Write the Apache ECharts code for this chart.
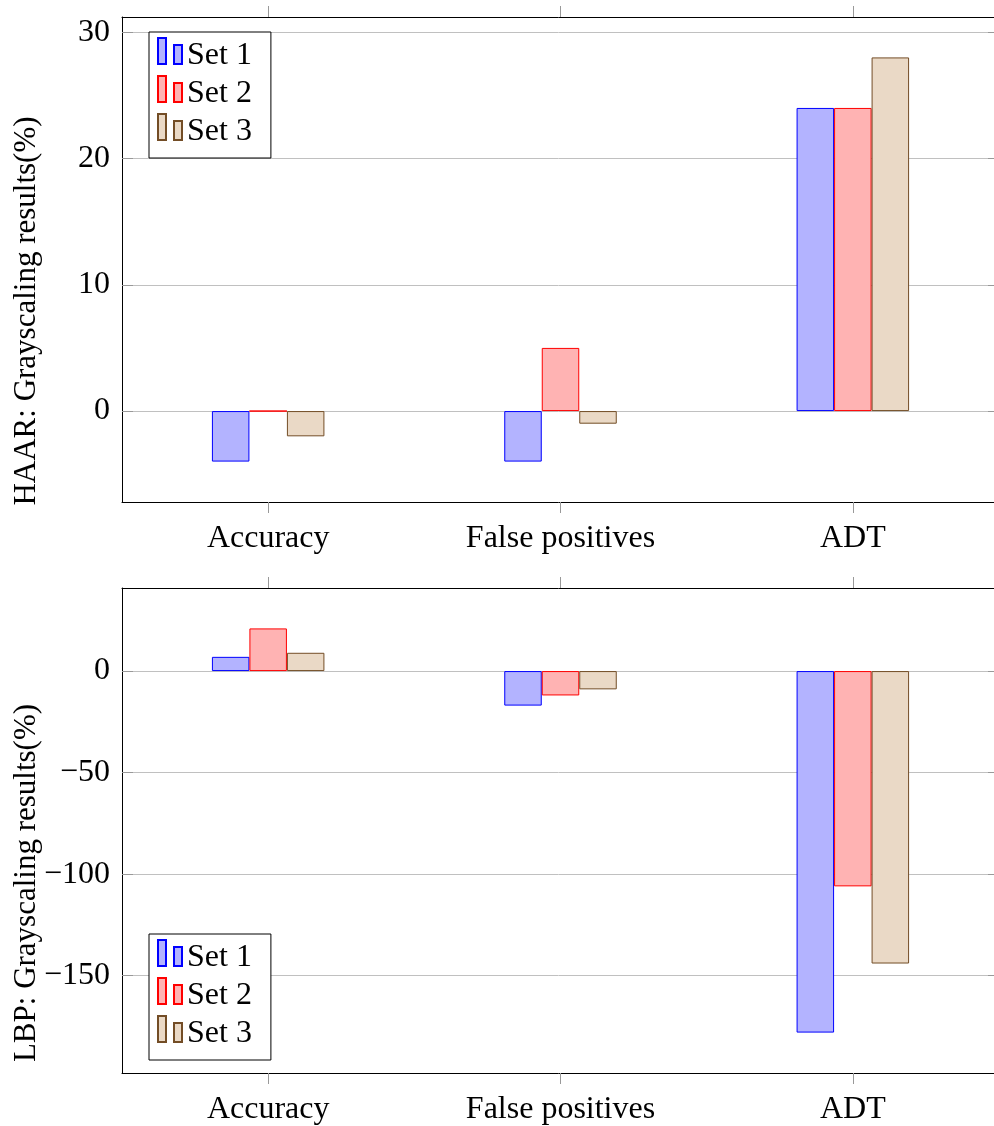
<!DOCTYPE html>
<html><head><meta charset="utf-8">
<script src="https://cdn.jsdelivr.net/npm/echarts@6/dist/echarts.min.js"></script>
<style>html,body{margin:0;padding:0;background:#fff}#c{width:994px;height:1126px}</style>
</head><body><div id="c"></div>
<script>
const categories = ['Accuracy', 'False positives', 'ADT'];
const seriesNames = ['Set 1', 'Set 2', 'Set 3'];
const haarSet1 = [-4, -4, 24];
const haarSet2 = [0, 5, 24];
const haarSet3 = [-2, -1, 28];
const lbpSet1 = [7, -17, -178];
const lbpSet2 = [21, -12, -106];
const lbpSet3 = [9, -9, -144];
const haarTicks = [0, 10, 20, 30];
const lbpTicks = [-150, -100, -50, 0];
const yTitles = ['HAAR: Grayscaling results(%)', 'LBP: Grayscaling results(%)'];

const FONT = 'Liberation Serif';
const fills = ['#b3b3ff', '#ffb3b3', '#ead9c6'];
const strokes = ['#0000ff', '#ff0000', '#734d26'];
const fmt = v => String(v).replace('-', '\u2212');

function limits(arrs) {
  const all = [].concat(...arrs);
  const lo = Math.min(...all), hi = Math.max(...all);
  const r = hi - lo;
  return [lo - 0.1 * r, hi + 0.1 * r];
}
const haarLim = limits([haarSet1, haarSet2, haarSet3]);
const lbpLim = limits([lbpSet1, lbpSet2, lbpSet3]);
const catIdx = categories.map((_, i) => i);

const grids = [
  { left: 122, top: 17, width: 877, height: 485, outerBoundsMode: 'none', containLabel: false },
  { left: 122, top: 588, width: 877, height: 485, outerBoundsMode: 'none', containLabel: false }
];

const tickStyle = { show: true, length: 11, lineStyle: { color: '#999', width: 1 } };
function xAxes(gi) {
  return [{
    type: 'category', gridIndex: gi, data: categories, position: 'bottom',
    axisLine: { show: true, onZero: false, lineStyle: { color: '#000', width: 1 } },
    axisTick: { show: false },
    axisLabel: { margin: 21, interval: 0, fontFamily: FONT, fontSize: 32, color: '#000' },
    splitLine: { show: false }
  }, {
    type: 'value', gridIndex: gi, position: 'top', min: -0.5, max: categories.length - 0.5,
    axisLine: { show: true, onZero: false, lineStyle: { color: '#000', width: 1 } },
    axisTick: Object.assign({ customValues: catIdx }, tickStyle),
    axisLabel: { show: false },
    splitLine: { show: false }
  }, {
    type: 'value', gridIndex: gi, position: 'bottom', min: -0.5, max: categories.length - 0.5,
    axisLine: { show: false, onZero: false },
    axisTick: Object.assign({ customValues: catIdx }, tickStyle),
    axisLabel: { show: false },
    splitLine: { show: false }
  }];
}
function yAxes(gi, lim, ticks, splitNumber) {
  return [{
    type: 'value', gridIndex: gi, min: lim[0], max: lim[1], splitNumber, position: 'left',
    axisLine: { show: true, onZero: false, lineStyle: { color: '#000', width: 1 } },
    axisTick: { show: true, inside: true, length: 11, customValues: ticks, lineStyle: { color: '#999' } },
    axisLabel: { margin: 12, fontFamily: FONT, fontSize: 32, color: '#000', customValues: ticks,
      formatter: v => ticks.includes(v) ? fmt(v) : '' },
    splitLine: { show: true, lineStyle: { color: '#c0c0c0', width: 1 } }
  }, {
    type: 'value', gridIndex: gi, min: lim[0], max: lim[1], splitNumber, position: 'right',
    axisLine: { show: true, onZero: false, lineStyle: { color: '#000', width: 1 } },
    axisTick: { show: true, inside: true, length: 11, customValues: ticks, lineStyle: { color: '#999' } },
    axisLabel: { show: false },
    splitLine: { show: false }
  }];
}

const panelData = [[haarSet1, haarSet2, haarSet3], [lbpSet1, lbpSet2, lbpSet3]];
const series = [];
panelData.forEach((sets, gi) => {
  sets.forEach((vals, si) => {
    series.push({
      type: 'bar', name: seriesNames[si], data: vals,
      xAxisIndex: gi * 3, yAxisIndex: gi * 2,
      barWidth: 37.5, barGap: '0%',
      itemStyle: { color: fills[si], borderColor: strokes[si], borderWidth: 1 },
      emphasis: { disabled: true }, animation: false
    });
  });
});

// two small bars (pgfplots ybar legend image); trailing moveTo reserves space below
const legendIcon = 'path://M0 0H8V26H0ZM16 7H24V26H16ZM0 36';
const option = {
  animation: false,
  grid: grids,
  xAxis: [...xAxes(0), ...xAxes(1)],
  yAxis: [...yAxes(0, haarLim, haarTicks, 4), ...yAxes(1, lbpLim, lbpTicks, 5)],
  legend: [32, 934].map(t => ({
    orient: 'vertical', left: 149, top: t, data: seriesNames,
    icon: legendIcon, itemWidth: 24, itemHeight: 36, itemGap: 0,
    borderColor: '#000', borderWidth: 1, borderRadius: 0, padding: [5, 19, 7, 8],
    backgroundColor: '#fff', selectedMode: false,
    textStyle: { fontFamily: FONT, fontSize: 32, color: '#000' }
  })),
  graphic: yTitles.map((t, i) => ({
    type: 'text', x: 27, y: i === 0 ? 311 : 883, rotation: Math.PI / 2,
    style: { text: t, fontFamily: FONT, fontSize: 31, fill: '#000', align: 'center', verticalAlign: 'middle' }
  })),
  series
};
const chart = echarts.init(document.getElementById('c'), null, { renderer: 'canvas' });
chart.setOption(option);
</script>
</body></html>
